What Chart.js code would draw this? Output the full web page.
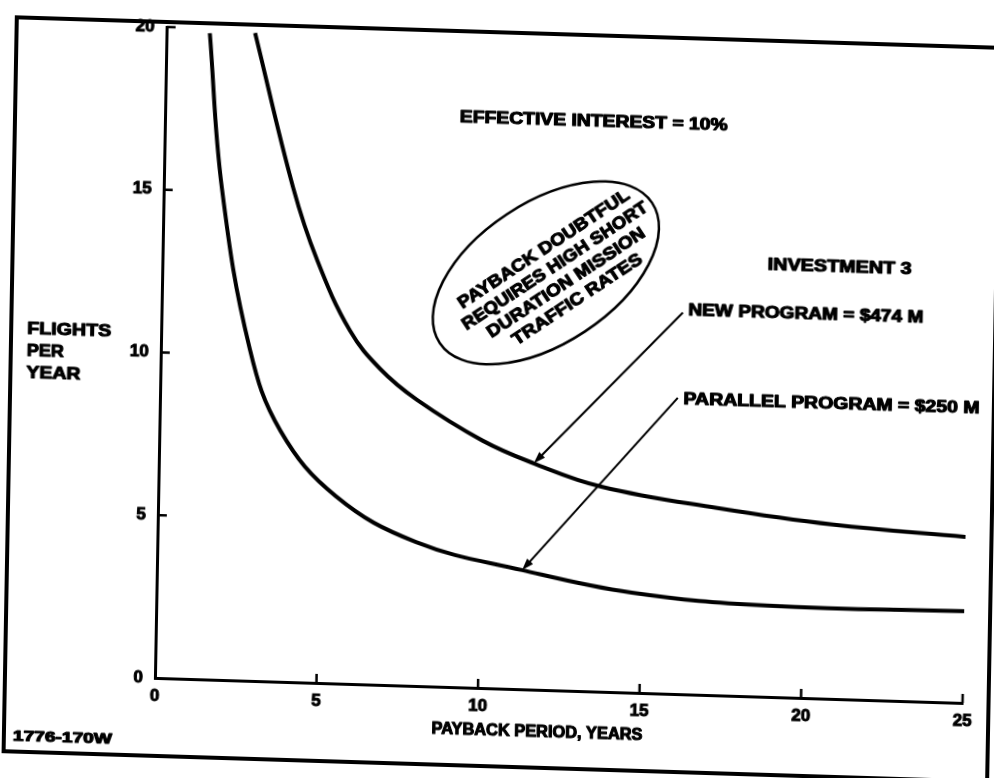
<!DOCTYPE html>
<html>
<head>
<meta charset="utf-8">
<script src="https://cdn.jsdelivr.net/npm/chart.js@4.4.1/dist/chart.umd.min.js"></script>
<style>
  html, body { margin: 0; padding: 0; background: #fff; overflow: hidden; }
  /* the scanned original is slightly skewed, so the canvas is too */
  #chart {
    display: block;
    transform-origin: 155px 678px;
    transform: matrix(1, 0.031, -0.018, 1, 0, 0);
  }
</style>
</head>
<body>
<canvas id="chart" width="994" height="778"></canvas>
<script>
// Payback period vs flights per year
const newProgramYears = [2.74, 4.0, 4.78, 5.84, 6.8, 7.95, 10.0, 11.6, 13.7, 17.3, 20.9, 25];
const newProgramFlights = [19.9, 15.2, 13.0, 10.85, 9.7, 8.79, 7.6, 6.95, 6.3, 5.75, 5.35, 5.1];
const parallelYears = [1.34, 1.8, 2.75, 3.75, 5.5, 8.0, 11.3, 14.7, 18.9, 25];
const parallelFlights = [19.85, 15.1, 10.2, 7.7, 5.75, 4.42, 3.66, 3.07, 2.8, 2.82];
const xTicks = [0, 5, 10, 15, 20, 25];
const yTicks = [0, 5, 10, 15, 20];

const FONT = '"Liberation Sans", Arial, sans-serif';

function toPoints(xs, ys) {
  return xs.map((v, i) => ({ x: v, y: ys[i] }));
}

function fitText(ctx, text, x, y, w, size, align) {
  ctx.save();
  ctx.font = 'bold ' + size + 'px ' + FONT;
  const m = ctx.measureText(text).width;
  ctx.translate(x, y);
  ctx.scale(w / m, 1);
  ctx.textAlign = align || 'left';
  ctx.textBaseline = 'middle';
  ctx.fillStyle = '#000';
  ctx.strokeStyle = '#000';
  ctx.lineWidth = 1.1;
  ctx.lineJoin = 'round';
  ctx.strokeText(text, 0, 0);
  ctx.fillText(text, 0, 0);
  ctx.restore();
}

function arrow(ctx, x1, y1, x2, y2) {
  const a = Math.atan2(y2 - y1, x2 - x1);
  ctx.save();
  ctx.lineWidth = 2;
  ctx.strokeStyle = '#000';
  ctx.fillStyle = '#000';
  ctx.beginPath();
  ctx.moveTo(x1, y1);
  ctx.lineTo(x2 - 8 * Math.cos(a), y2 - 8 * Math.sin(a));
  ctx.stroke();
  ctx.beginPath();
  ctx.moveTo(x2, y2);
  ctx.lineTo(x2 - 12 * Math.cos(a) + 4 * Math.sin(a), y2 - 12 * Math.sin(a) - 4 * Math.cos(a));
  ctx.lineTo(x2 - 12 * Math.cos(a) - 4 * Math.sin(a), y2 - 12 * Math.sin(a) + 4 * Math.cos(a));
  ctx.closePath();
  ctx.fill();
  ctx.restore();
}

const decorations = {
  id: 'decorations',
  afterDraw(chart) {
    const { ctx, chartArea: ca, scales: { x, y } } = chart;
    const px = v => x.getPixelForValue(v);
    const py = v => y.getPixelForValue(v);

    // outer frame
    ctx.save();
    ctx.lineWidth = 4;
    ctx.strokeStyle = '#000';
    ctx.strokeRect(5, 22, 984, 734);

    // inward tick marks
    ctx.lineWidth = 2.5;
    ctx.beginPath();
    xTicks.slice(1).forEach(t => {
      ctx.moveTo(px(t), ca.bottom);
      ctx.lineTo(px(t), ca.bottom - 9);
    });
    yTicks.slice(1).forEach(t => {
      ctx.moveTo(ca.left, py(t));
      ctx.lineTo(ca.left + 9, py(t));
    });
    ctx.stroke();
    ctx.restore();

    // axis titles and figure number
    fitText(ctx, 'FLIGHTS', 21, 333, 84, 17);
    fitText(ctx, 'PER', 21, 355, 37, 17);
    fitText(ctx, 'YEAR', 21, 377, 54, 17);
    fitText(ctx, 'PAYBACK PERIOD, YEARS', 538, 721, 211, 16, 'center');
    fitText(ctx, '1776-170W', 14, 741, 99, 14);

    // notes
    fitText(ctx, 'EFFECTIVE INTEREST = 10%', px(9.12), py(17.5), 268, 16);
    fitText(ctx, 'INVESTMENT 3', px(18.73), py(13.26), 144, 16);
    fitText(ctx, 'NEW PROGRAM = $474 M', px(16.3), py(11.77), 235, 16);
    fitText(ctx, 'PARALLEL PROGRAM = $250 M', px(16.2), py(9.03), 296, 16);

    // leaders to the curves
    arrow(ctx, px(16.13), py(11.72), px(newProgramYears[7]), py(newProgramFlights[7]));
    arrow(ctx, px(16.02), py(9.1), px(parallelYears[6]), py(parallelFlights[6]));

    // the "payback doubtful" bubble
    const rot = -35 * Math.PI / 180;
    ctx.save();
    ctx.lineWidth = 2.5;
    ctx.strokeStyle = '#000';
    ctx.beginPath();
    ctx.ellipse(px(11.87), py(12.81), 128, 70, rot, 0, Math.PI * 2);
    ctx.stroke();
    ctx.translate(px(12.33), py(12.77));
    ctx.rotate(rot);
    fitText(ctx, 'PAYBACK DOUBTFUL', 0, -30, 203, 17, 'center');
    fitText(ctx, 'REQUIRES HIGH SHORT', 0, -10, 220, 17, 'center');
    fitText(ctx, 'DURATION MISSION', 0, 10, 187, 17, 'center');
    fitText(ctx, 'TRAFFIC RATES', 0, 30, 153, 17, 'center');
    ctx.restore();
  }
};

const tickFont = { family: FONT, size: 17, weight: 'bold' };

new Chart(document.getElementById('chart').getContext('2d'), {
  type: 'line',
  data: {
    datasets: [{
      label: 'New program = $474 M',
      data: toPoints(newProgramYears, newProgramFlights),
      borderColor: '#000',
      borderWidth: 4,
      pointRadius: 0,
      tension: 0.4,
      fill: false
    }, {
      label: 'Parallel program = $250 M',
      data: toPoints(parallelYears, parallelFlights),
      borderColor: '#000',
      borderWidth: 4,
      pointRadius: 0,
      tension: 0.4,
      fill: false
    }]
  },
  options: {
    responsive: false,
    animation: false,
    layout: { padding: { left: 0, top: 27, right: 31, bottom: 0 } },
    plugins: {
      legend: { display: false },
      tooltip: { enabled: false }
    },
    scales: {
      x: {
        type: 'linear',
        min: 0,
        max: 25,
        afterFit(scale) { scale.height = 100; },
        afterBuildTicks(scale) { scale.ticks = xTicks.map(v => ({ value: v })); },
        grid: { display: false },
        border: { display: true, color: '#000', width: 3 },
        ticks: { padding: 0, color: '#000', textStrokeColor: '#000', textStrokeWidth: 1, font: tickFont }
      },
      y: {
        type: 'linear',
        min: 0,
        max: 20,
        afterFit(scale) { scale.width = 155; },
        afterBuildTicks(scale) { scale.ticks = yTicks.map(v => ({ value: v })); },
        grid: { display: false },
        border: { display: true, color: '#000', width: 3 },
        ticks: { padding: 4, color: '#000', textStrokeColor: '#000', textStrokeWidth: 1, font: tickFont }
      }
    }
  },
  plugins: [decorations]
});
</script>
</body>
</html>
